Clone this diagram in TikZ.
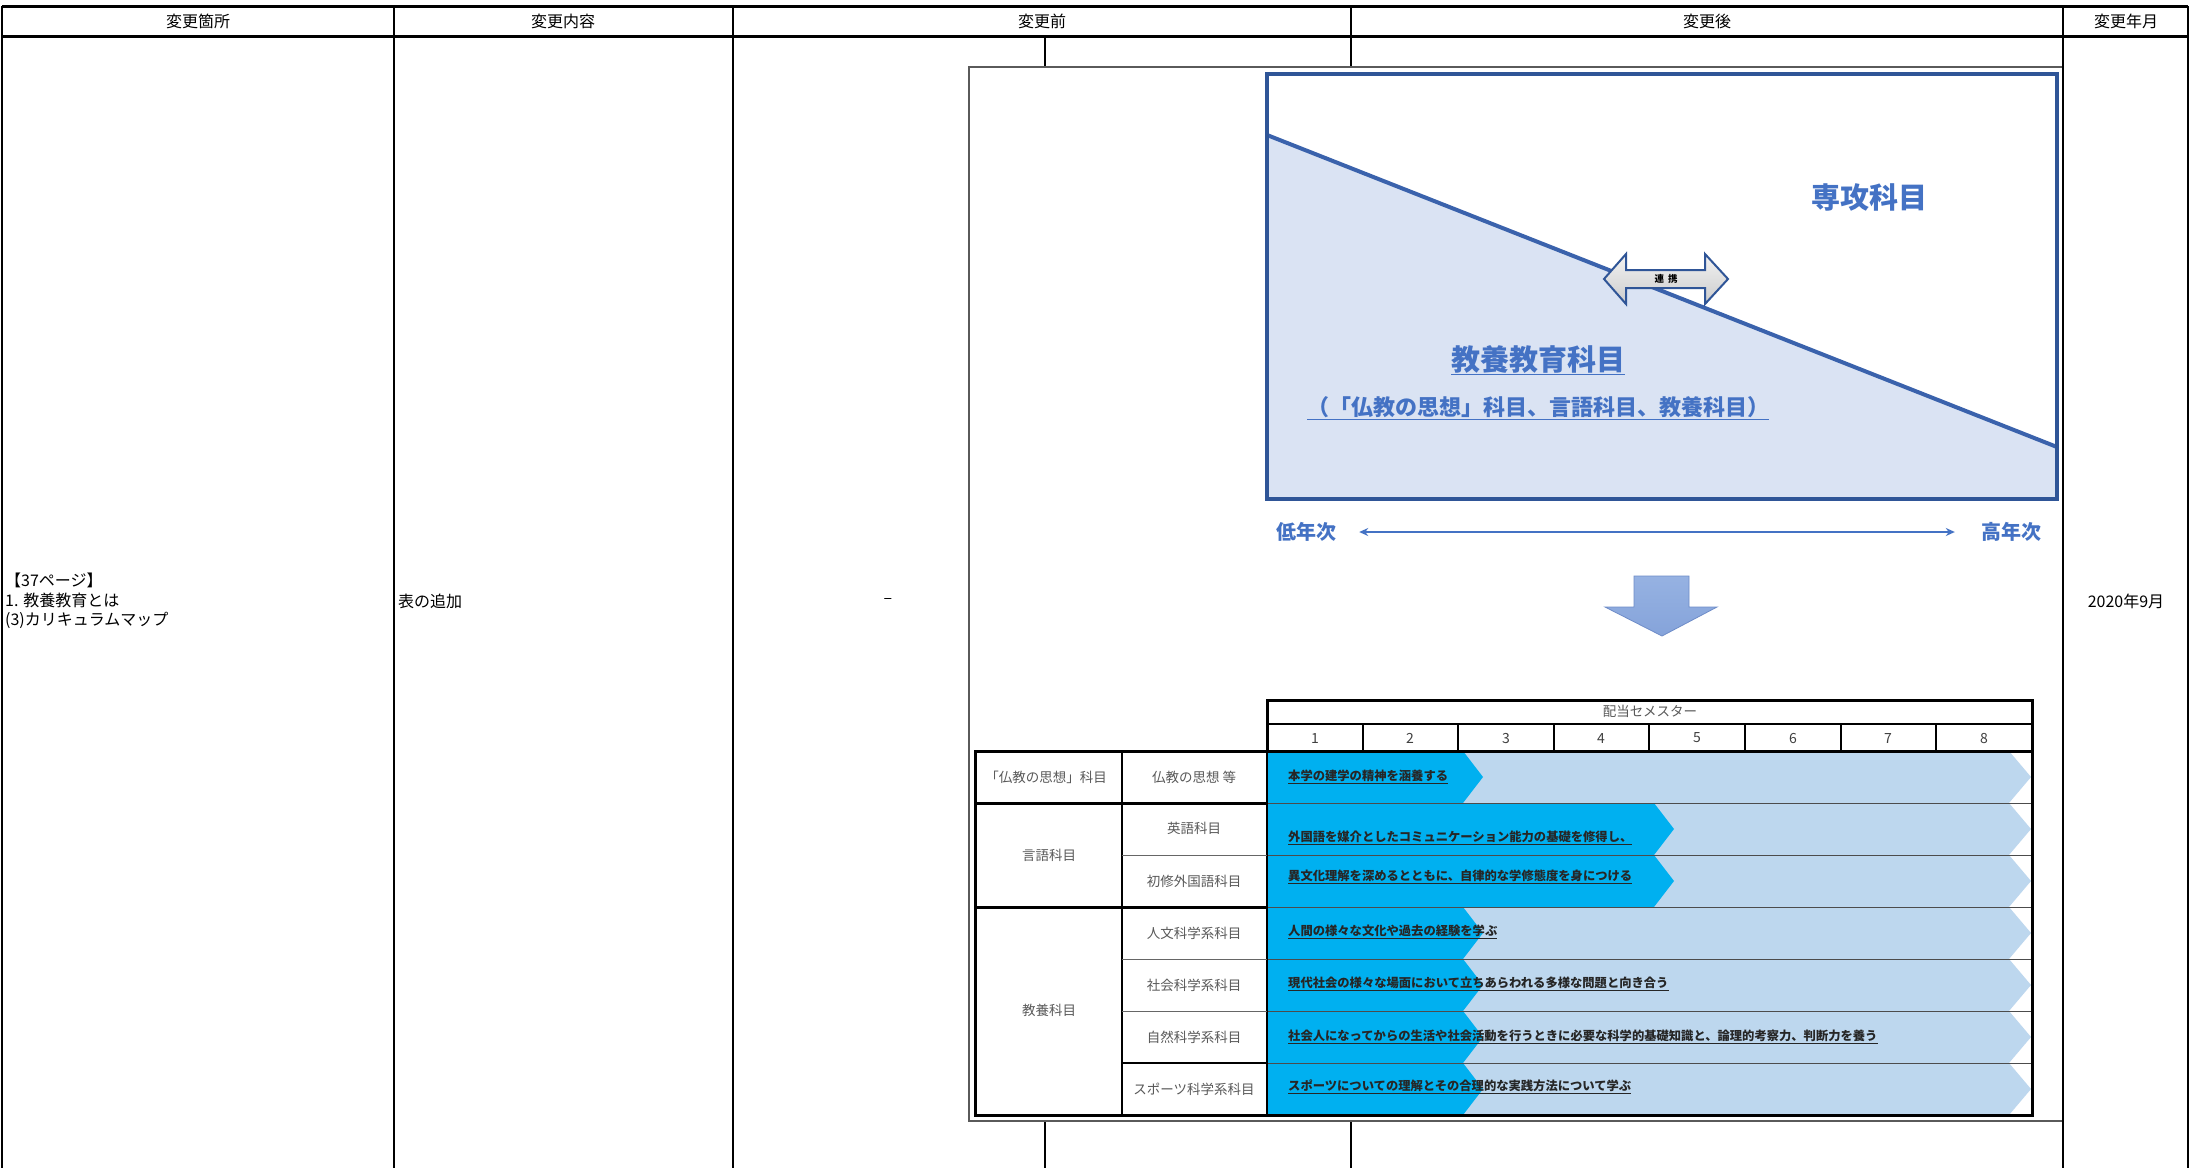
\documentclass[tikz,border=0pt]{standalone}
\usepackage{fontspec}
\setmainfont{Noto Sans CJK JP}
\usetikzlibrary{arrows.meta}
\definecolor{boxblue}{RGB}{47,85,151}
\definecolor{diagblue}{RGB}{58,98,172}
\definecolor{fillblue}{RGB}{218,227,243}
\definecolor{textblue}{RGB}{68,114,196}
\definecolor{darkbar}{RGB}{0,176,240}
\definecolor{lightbar}{RGB}{189,215,238}
\definecolor{graytext}{RGB}{89,89,89}
\definecolor{downblue}{RGB}{133,163,218}
\definecolor{downtop}{RGB}{150,178,226}
\definecolor{downedge}{RGB}{110,140,200}
\definecolor{framegray}{RGB}{90,90,90}
\tikzset{
  hdr/.style={font=\fontsize{16}{19}\selectfont, inner sep=0pt},
  bodytxt/.style={font=\fontsize{16}{19.5}\selectfont, inner sep=0pt},
  bigblue/.style={font=\fontsize{29}{34}\selectfont\bfseries, text=textblue, inner sep=0pt},
  subblue/.style={font=\fontsize{22}{26}\selectfont\bfseries, text=textblue, inner sep=0pt},
  yearlbl/.style={font=\fontsize{20}{24}\selectfont\bfseries, text=textblue, inner sep=0pt},
  lbl/.style={font=\fontsize{13.5}{16}\selectfont, text=graytext, inner sep=0pt},
  semnum/.style={font=\fontsize{14}{16}\selectfont, text=black!75, inner sep=0pt},
  bartxt/.style={font=\fontsize{12.3}{15}\selectfont\bfseries, text=black!85, inner sep=0pt, anchor=west},
  tblline/.style={line width=2pt, black},
  thickline/.style={line width=3pt, black},
}
\begin{document}
\begin{tikzpicture}[x=1pt,y=-1pt]
\useasboundingbox (0,0) rectangle (2190,1168);
\fill[white] (0,0) rectangle (2190,1168);

% ---------- outer table ----------
\draw[thickline] (2,6) -- (2188,6);
\draw[thickline] (2,36) -- (2188,36);
\foreach \x in {2,394,733,2188} \draw[tblline] (\x,6) -- (\x,1168);
\draw[tblline] (1351,6) -- (1351,67);
\draw[tblline] (1351,1121) -- (1351,1168);
\draw[tblline] (1045,36) -- (1045,67);
\draw[tblline] (1045,1121) -- (1045,1168);

\node[hdr] (h1) at (198,21) {変更箇所};
\node[hdr] (h2) at (563,21) {変更内容};
\node[hdr] (h3) at (1042,21) {変更前};
\node[hdr] (h4) at (1707,21) {変更後};
\node[hdr] (h5) at (2126,21) {変更年月};

\node[bodytxt, anchor=west, align=left] (b1) at (5,601) {【37ページ】\\1. 教養教育とは\\(3)カリキュラムマップ};
\node[bodytxt, anchor=west] (b2) at (398,601) {表の追加};
\node[bodytxt] (b3) at (888,601) {–};
\node[bodytxt] (b5) at (2126,601) {2020年9月};

% ---------- pasted figure frame ----------
\draw[framegray, line width=1.2pt, fill=white] (969,67) rectangle (2063,1121);
\draw[tblline] (2063,6) -- (2063,1168);

% ---------- upper diagram ----------
\fill[fillblue] (1267,135) -- (2057,447) -- (2057,499) -- (1267,499) -- cycle;
\draw[diagblue, line width=4pt] (1267,135) -- (2057,447);
\draw[boxblue, line width=4.5pt] (1267,74) rectangle (2057,499);

\node[bigblue] (sen) at (1869,197) {専攻科目};
\node[bigblue] (kyo) at (1538,360) {\underline{教養教育科目}};
\node[subblue] (kyosub) at (1538,408) {\underline{（「仏教の思想」科目、言語科目、教養科目）}};

% link arrow
\draw[boxblue, line width=2pt, top color=gray!10, bottom color=gray!40]
  (1604,279) -- (1626,254) -- (1626,270) -- (1705,270) -- (1705,254) -- (1728,279)
  -- (1705,304) -- (1705,288) -- (1626,288) -- (1626,304) -- cycle;
\node[font=\fontsize{9.5}{11}\selectfont\bfseries, inner sep=0pt] (renkei) at (1666,279) {連\hspace{4pt}携};

% years
\node[yearlbl] (low) at (1306,532) {低年次};
\node[yearlbl] (high) at (2011,532) {高年次};
\draw[textblue, line width=1.5pt, {Stealth[length=9pt,width=8pt]}-{Stealth[length=9pt,width=8pt]}] ([xshift=23pt]low.east) -- ([xshift=-26pt]high.west);

% down arrow
\draw[downedge, line width=0.8pt, top color=downtop, bottom color=downblue]
  (1634,576) -- (1689,576) -- (1689,607) -- (1717,607) -- (1662,636) -- (1605,607) -- (1634,607) -- cycle;

% ---------- semester table ----------
% bars
\foreach \t/\b/\e in {751/803/1463, 803/855/1654, 855/907/1654, 907/959/1463, 959/1011/1463, 1011/1063/1463, 1063/1115/1463}{
  \pgfmathsetmacro{\m}{(\t+\b)/2}
  \fill[lightbar] (1267,\t) -- (2009,\t) -- (2031,\m) -- (2009,\b) -- (1267,\b) -- cycle;
  \pgfmathsetmacro{\tip}{\e+20}
  \fill[darkbar] (1267,\t) -- (\e,\t) -- (\tip,\m) -- (\e,\b) -- (1267,\b) -- cycle;
}
% thin separators over bars
\foreach \y in {803,855,907,959,1011,1063}
  \draw[black!70, line width=1pt] (1267,\y) -- (2032,\y);

% header box
\draw[thickline] (1267,700) rectangle (2032,751);
\draw[line width=2pt] (1267,724) -- (2032,724);
\foreach \x in {1363,1458,1554,1649,1745,1841,1936}
  \draw[line width=1.5pt] (\x,724) -- (\x,751);
\node[lbl] (haitou) at (1650,711) {配当セメスター};
\foreach \i/\x in {1/1315,2/1410,3/1506,4/1601,5/1697,6/1793,7/1888,8/1984}
  \node[semnum] (s\i) at (\x,738) {\i};

% left part
\draw[thickline] (975,751) rectangle (2032,1115);
\draw[line width=1.5pt] (1122,751) -- (1122,1115);
\draw[line width=2.5pt] (1267,751) -- (1267,1115);
\draw[thickline] (975,803) -- (1267,803);
\draw[thickline] (975,907) -- (1267,907);
\foreach \y in {855,959,1011}
  \draw[black!60, line width=1pt] (1122,\y) -- (1267,\y);
\draw[line width=1.5pt] (1122,1063) -- (1267,1063);

\node[lbl] (g1) at (1046,777) {「仏教の思想」科目};
\node[lbl] (g2) at (1049,855) {言語科目};
\node[lbl] (g3) at (1049,1010) {教養科目};
\node[lbl] (c1) at (1194,777) {仏教の思想 等};
\node[lbl] (c2) at (1194,828) {英語科目};
\node[lbl] (c3) at (1194,881) {初修外国語科目};
\node[lbl] (c4) at (1194,933) {人文科学系科目};
\node[lbl] (c5) at (1194,985) {社会科学系科目};
\node[lbl] (c6) at (1194,1037) {自然科学系科目};
\node[lbl] (c7) at (1194,1089) {スポーツ科学系科目};

\node[bartxt] (t1) at (1288,777) {\underline{本学の建学の精神を涵養する}};
\node[bartxt] (t2) at (1288,838) {\underline{外国語を媒介としたコミュニケーション能力の基礎を修得し、}};
\node[bartxt] (t3) at (1288,877) {\underline{異文化理解を深めるとともに、自律的な学修態度を身につける}};
\node[bartxt] (t4) at (1288,932) {\underline{人間の様々な文化や過去の経験を学ぶ}};
\node[bartxt] (t5) at (1288,984) {\underline{現代社会の様々な場面において立ちあらわれる多様な問題と向き合う}};
\node[bartxt] (t6) at (1288,1037) {\underline{社会人になってからの生活や社会活動を行うときに必要な科学的基礎知識と、論理的考察力、判断力を養う}};
\node[bartxt] (t7) at (1288,1087) {\underline{スポーツについての理解とその合理的な実践方法について学ぶ}};
\end{tikzpicture}
\end{document}
